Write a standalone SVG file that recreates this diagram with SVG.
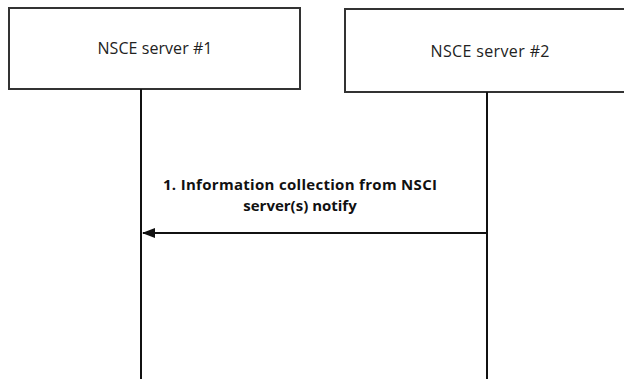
<svg xmlns="http://www.w3.org/2000/svg" width="624" height="379" viewBox="0 0 624 379">
<style>
.box{fill:#fff;stroke:#333;stroke-width:2}
.life{stroke:#111;stroke-width:2}
.lbl{font-family:"Open Sans","Liberation Sans",sans-serif;font-size:16px;fill:#222;text-anchor:middle}
.msg{font-family:"Open Sans","Liberation Sans",sans-serif;font-size:15px;font-weight:bold;fill:#111;text-anchor:middle}
</style>
<defs>
<marker id="ah" markerWidth="13" markerHeight="10" refX="12" refY="5" orient="auto" markerUnits="userSpaceOnUse" viewBox="0 0 13 10">
<path d="M13,5 L0,0 L0,10 Z" fill="#111"/>
</marker>
</defs>
<rect width="624" height="379" fill="#fff"/>
<g id="server1">
<rect class="box" x="9" y="8" width="291" height="81"/>
<text class="lbl" x="155" y="54" textLength="115">NSCE server #1</text>
</g>
<g id="server2">
<rect class="box" x="345" y="9" width="290" height="83"/>
<text class="lbl" x="490" y="57" textLength="119">NSCE server #2</text>
</g>
<g id="connectors">
<line class="life" x1="141" y1="89" x2="141" y2="379"/>
<line class="life" x1="487" y1="92" x2="487" y2="379"/>
<line x1="487" y1="233" x2="143" y2="233" stroke="#111" stroke-width="2" marker-end="url(#ah)"/>
<text class="msg" x="300" y="190" textLength="274">1. Information collection from NSCI</text>
<text class="msg" x="300" y="211">server(s) notify</text>
</g>
</svg>
